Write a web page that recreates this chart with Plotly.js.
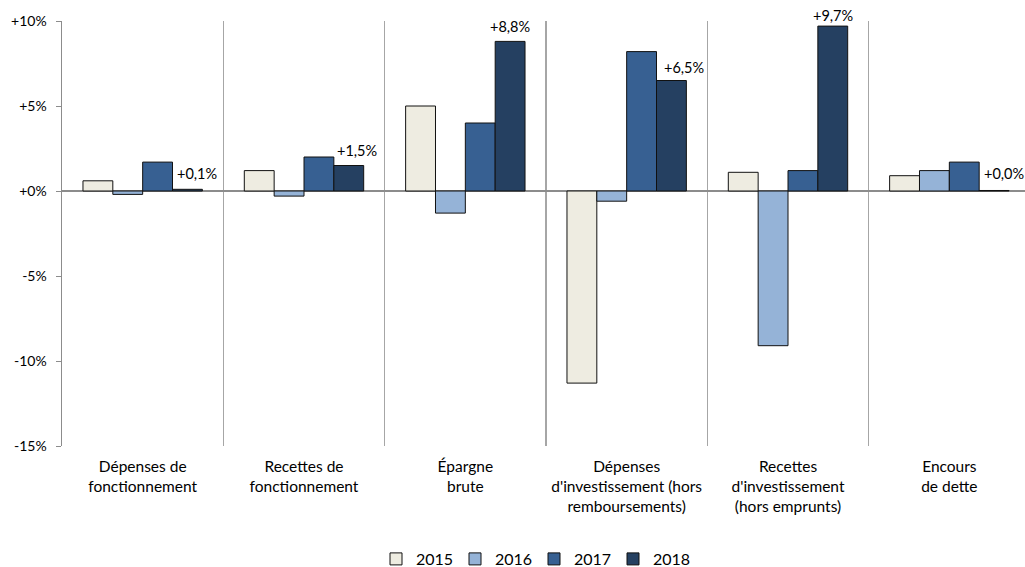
<!DOCTYPE html>
<html>
<head>
<meta charset="utf-8">
<script src="https://cdn.plot.ly/plotly-3.0.1.min.js"></script>
<style>
html,body{margin:0;padding:0;background:#fff;overflow:hidden;}
#chart{width:1025px;height:567px;}
</style>
</head>
<body>
<div id="chart"></div>
<script>
// ---- Data ----
var categories = [
  "Dépenses de<br>fonctionnement",
  "Recettes de<br>fonctionnement",
  "Épargne<br>brute",
  "Dépenses<br>d'investissement (hors<br>remboursements)",
  "Recettes<br>d'investissement<br>(hors emprunts)",
  "Encours<br>de dette"
];
var seriesNames = ["2015", "2016", "2017", "2018"];
var values2015 = [0.6, 1.2, 5.0, -11.3, 1.1, 0.9];
var values2016 = [-0.2, -0.3, -1.3, -0.6, -9.1, 1.2];
var values2017 = [1.7, 2.0, 4.0, 8.2, 1.2, 1.7];
var values2018 = [0.1, 1.5, 8.8, 6.5, 9.7, 0.03];
var yTickVals = [10, 5, 0, -5, -10, -15];
var yTickText = ["+10%", "+5%", "+0%", "-5%", "-10%", "-15%"];

// ---- Style ----
var colors = ["#EEECE1", "#95B3D7", "#376092", "#254061"];
var FONT = "Lato, 'Liberation Sans', sans-serif";
var bargap = 0.26;
var labelDx = [10, 8, 0, 13, 0, 10];
var labelDy = [16, 15, 15, 13, 11, 17];
var legendLeftPx = [376, 455, 534, 613];
var legendIds = ["legend", "legend2", "legend3", "legend4"];

var allValues = [values2015, values2016, values2017, values2018];
var traces = allValues.map(function (vals, k) {
  return {
    type: "bar",
    name: seriesNames[k],
    x: categories,
    y: vals,
    legend: legendIds[k],
    marker: {color: colors[k], line: {color: "#111111", width: 1}},
    hoverinfo: "none"
  };
});

function fmt(v) {
  return (v >= 0 ? "+" : "") + v.toFixed(1).replace(".", ",") + "%";
}

var barFrac = (1 - bargap) / 4;
var annotations = values2018.map(function (v, i) {
  return {
    xref: "x", yref: "y",
    x: i + 1.5 * barFrac, y: v,
    text: fmt(v),
    showarrow: false,
    xanchor: "center", yanchor: "middle",
    xshift: labelDx[i], yshift: labelDy[i],
    font: {family: FONT, size: 14.5, color: "#000"}
  };
});

var layout = {
  width: 1025, height: 567,
  margin: {l: 62, r: 0, t: 21, b: 121},
  paper_bgcolor: "#fff", plot_bgcolor: "#fff",
  barmode: "group",
  bargap: bargap, bargroupgap: 0,
  font: {family: FONT, size: 14, color: "#000"},
  showlegend: true,
  xaxis: {
    type: "category",
    range: [-0.5, 5.469],
    tickson: "boundaries",
    showgrid: true, gridcolor: "#a6a6a6", gridwidth: 1.5,
    showline: false, zeroline: false, ticks: "",
    ticklabelstandoff: 9,
    tickfont: {family: FONT, size: 15.5, color: "#000"},
    fixedrange: true
  },
  yaxis: {
    range: [-15, 10],
    tickvals: yTickVals, ticktext: yTickText,
    showgrid: false,
    showline: true, linecolor: "#8c8c8c", linewidth: 1.5,
    zeroline: true, zerolinecolor: "#8c8c8c", zerolinewidth: 2,
    ticks: "outside", ticklen: 5, tickcolor: "#8c8c8c", tickwidth: 1,
    ticklabelstandoff: 6,
    tickfont: {family: FONT, size: 14, color: "#000"},
    fixedrange: true
  },
  annotations: annotations
};

legendIds.forEach(function (id, k) {
  layout[id] = {
    orientation: "h",
    xref: "container", yref: "container",
    x: legendLeftPx[k] / 1025, xanchor: "left",
    y: 8 / 567, yanchor: "middle",
    font: {family: FONT, size: 16, color: "#000"},
    bgcolor: "rgba(0,0,0,0)", borderwidth: 0
  };
});

Plotly.newPlot("chart", traces, layout, {displayModeBar: false, staticPlot: true});
</script>
</body>
</html>
